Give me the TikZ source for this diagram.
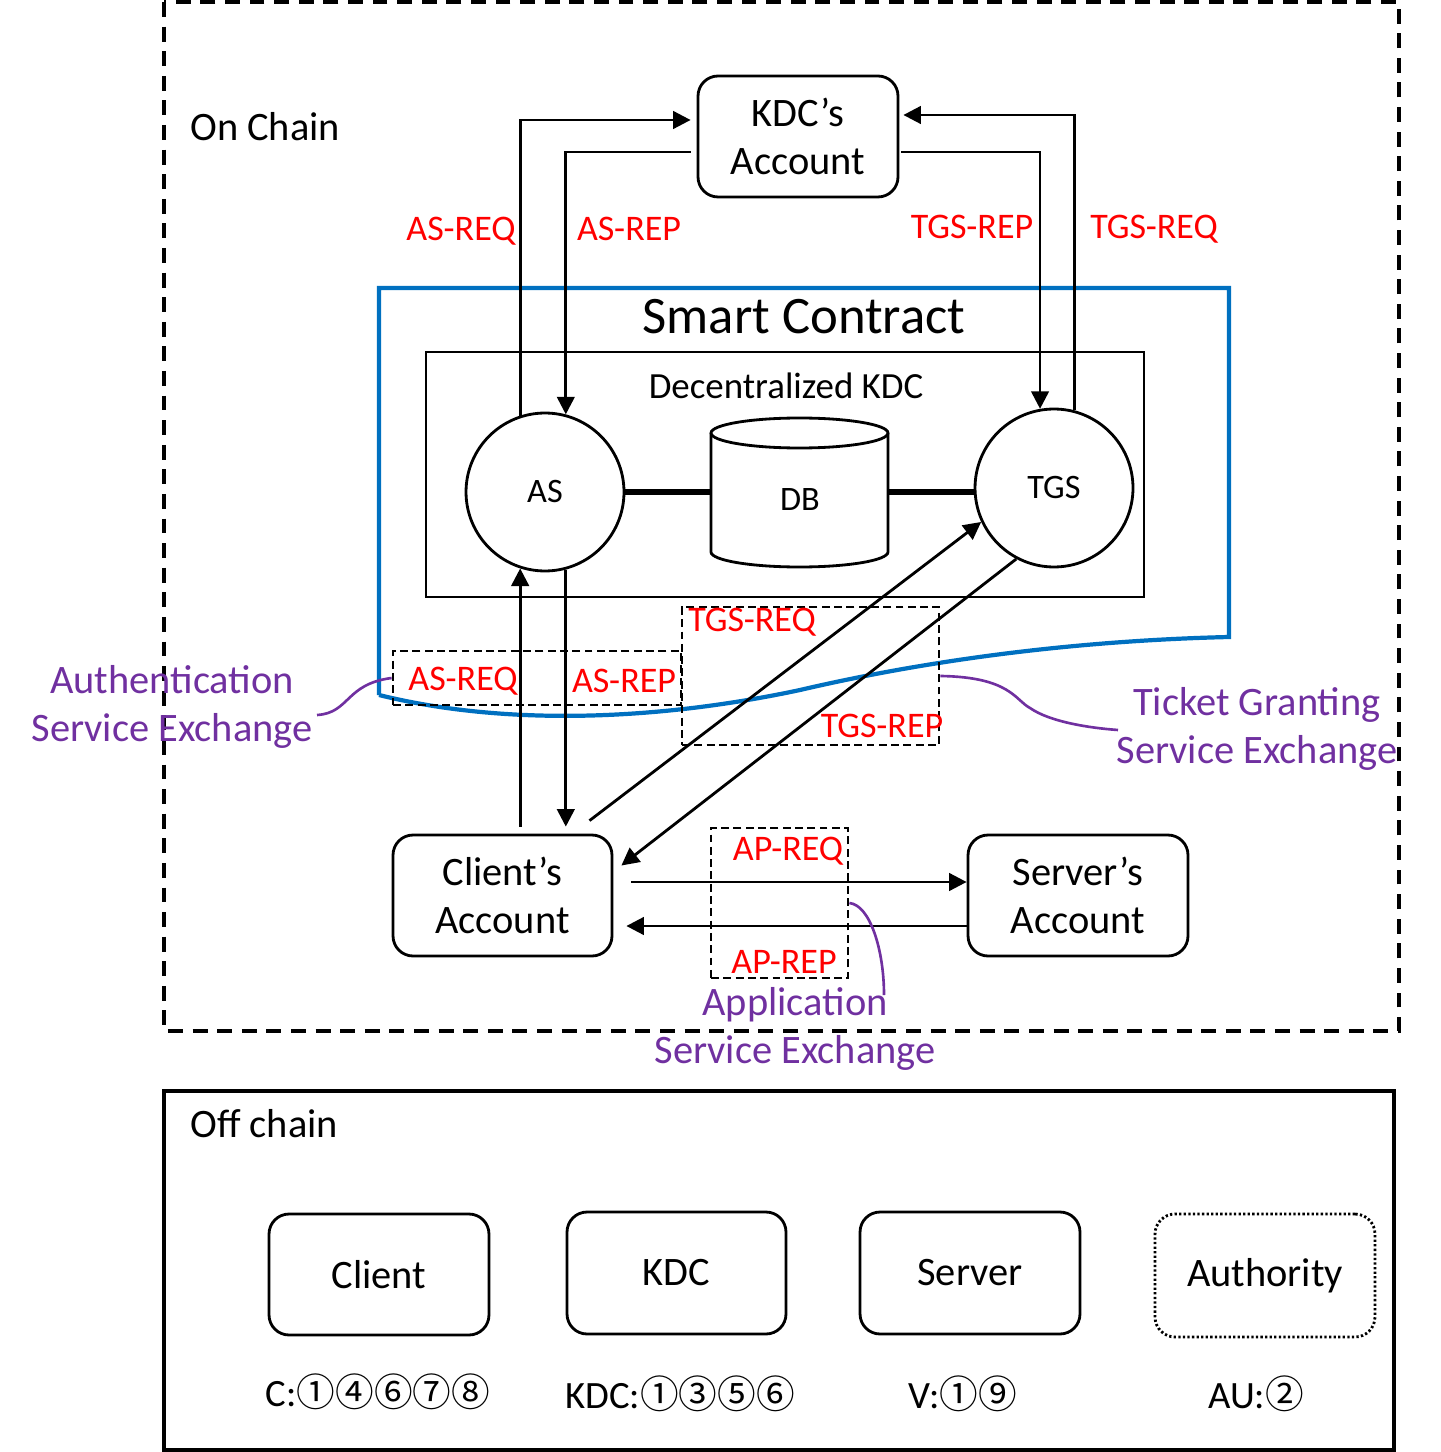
\documentclass[tikz,border=0pt]{standalone}
\usepackage{fontspec}
\setmainfont{Carlito}
\newfontfamily\circfont{Noto Sans CJK SC}
\usetikzlibrary{arrows.meta,calc}
\definecolor{redl}{RGB}{255,0,0}
\definecolor{purp}{RGB}{112,48,160}
\definecolor{blu}{RGB}{0,112,192}
\newcommand{\cn}[1]{{\circfont #1}}
\begin{document}
\begin{tikzpicture}[x=0.02cm,y=-0.02cm,
  box/.style={draw, rounded corners=0.4cm, line width=1.6pt, minimum width=4.4cm, minimum height=2.42cm, inner sep=0pt, align=center, font=\fontsize{23}{27.2}\selectfont},
  circ/.style={draw, circle, line width=1.6pt, minimum size=3.16cm, inner sep=0pt, font=\fontsize{19.5}{23}\selectfont},
  arr/.style={line width=1.6pt, -{Triangle[length=10pt,width=10pt]}},
  lbl/.style={text=redl, font=\fontsize{20.5}{24}\selectfont, inner sep=0pt},
  purl/.style={text=purp, align=center, font=\fontsize{23}{27.2}\selectfont, inner sep=0pt},
  dbox/.style={draw, line width=1.6pt, dash pattern=on 4.5pt off 2.5pt, inner sep=0pt},
  pcon/.style={draw=purp, line width=1.5pt},
  txt/.style={font=\fontsize{23}{27.2}\selectfont, inner sep=0pt},
  numl/.style={font=\fontsize{22}{26}\selectfont, inner sep=0pt}
]
\useasboundingbox (0,0) rectangle (1440,1452);

% frames
\draw[line width=1.8pt, dash pattern=on 8.5pt off 5.5pt] (164,2) rectangle (1399,1031);
\draw[line width=1.8pt] (164,1091) rectangle (1394,1450);
\node[txt, anchor=west] (onchain) at (190,127) {On Chain};
\node[txt, anchor=west] (offchain) at (190,1124) {Off chain};

% smart contract shape
\draw[blu, line width=2.4pt] (379,695) -- (379,288) -- (1229,288) -- (1229,637)
  .. controls (1100,640) and (950,655) .. (800,690)
  .. controls (650,722) and (500,725) .. (379,695);
\node[font=\fontsize{30}{34}\selectfont, inner sep=0pt] (sc) at (804,317) {Smart Contract};

% decentralized KDC
\node[draw, line width=1.6pt, minimum width=14.36cm, minimum height=4.9cm, inner sep=0pt] (dkdc) at (785,474.5) {};
\node[font=\fontsize{21}{25}\selectfont, inner sep=0pt] (dkdct) at (786,386) {Decentralized KDC};

\node[circ] (as) at (545,492) {AS};
\node[circ] (tgs) at (1054,488) {TGS};

% DB cylinder
\node[minimum width=3.54cm, minimum height=2.98cm, inner sep=0pt] (db) at (799.5,492.5) {};
\draw[line width=1.6pt] (799.5,433) ellipse[x radius=1.77cm, y radius=0.3cm];
\draw[line width=1.6pt] (711,433) -- (711,552) arc[start angle=180, end angle=360, x radius=1.77cm, y radius=0.3cm] -- (888,433);
\node[font=\fontsize{19.5}{23}\selectfont, inner sep=0pt] (dbt) at (800,500) {DB};
\draw[line width=3.5pt] (as.east |- 0,492) -- (db.west |- 0,492);
\draw[line width=3.5pt] (db.east |- 0,492) -- (tgs.west |- 0,492);

% KDC account
\node[box, minimum width=4cm] (kdc) at (798,136.5) {KDC’s\\Account};
\draw[arr] (as.108) |- ($(kdc.west)+(-6,-16.5)$);
\draw[arr] ($(kdc.west)+(-6,15.5)$) -| (as.75);
\draw[arr] ($(kdc.east)+(2,15.5)$) -| (tgs.100);
\draw[arr] (tgs.75) |- ($(kdc.east)+(4,-21.5)$);
\node[lbl] (l1) at (461,231) {AS-REQ};
\node[lbl] (l2) at (629,229) {AS-REP};
\node[lbl] (l3) at (972,227) {TGS-REP};
\node[lbl] (l4) at (1154,229) {TGS-REQ};

% accounts
\node[box, minimum width=4.38cm] (client) at (502.5,895.5) {Client’s\\Account};
\node[box] (server) at (1078,895.5) {Server’s\\Account};

\draw[arr] ($(as.252 |- client.north)+(0,-7)$) -- (as.252);
\draw[arr] (as.285) -- ($(as.285 |- client.north)+(0,-7)$);
\draw[arr] ($(client.north)+(87,-13)$) -- (tgs.205);
\draw[arr] (tgs.242) -- ($(client.east)+(8,-30)$);
\draw[arr] ($(client.east)+(18,-13.5)$) -- ($(server.west)+(0,-13.5)$);
\draw[arr] ($(server.west)+(0,30.5)$) -- ($(client.east)+(13,30.5)$);

% dashed boxes
\node[dbox, minimum width=5.76cm, minimum height=1.08cm] (asbox) at (537,678) {};
\node[dbox, minimum width=5.14cm, minimum height=2.76cm] (tgsbox) at (810.5,676) {};
\node[dbox, minimum width=2.74cm, minimum height=3.0cm] (apbox) at (779.5,903) {};

\node[lbl] (l5) at (463,681) {AS-REQ};
\node[lbl] (l6) at (624,681) {AS-REP};
\node[lbl] (l7) at (752,622) {TGS-REQ};
\node[lbl] (l8) at (882,726) {TGS-REP};
\node[lbl] (l9) at (788,851) {AP-REQ};
\node[lbl] (l10) at (784,962) {AP-REP};

% purple labels
\node[purl] (authl) at (172,707) {Authentication\\Service Exchange};
\node[purl] (tgsl) at (1257,729) {Ticket Granting\\Service Exchange};
\node[purl] (apl) at (795,1029) {Application\\Service Exchange};
\coordinate (authc) at (317,715);
\coordinate (tgsc) at (1118,730);
\coordinate (apc) at (884,995);
\draw[pcon] (authc) .. controls (350,713) and (345,684) .. (asbox.west);
\draw[pcon] (tgsbox.east) .. controls (1010,677) and (1015,700) .. (1030,708) .. controls (1050,722) and (1090,728) .. (tgsc);
\draw[pcon] (apbox.east) .. controls (870,905) and (884,950) .. (apc);

% off chain
\node[box] (cl) at (379,1274.5) {Client};
\node[box, minimum width=4.38cm, minimum height=2.44cm] (kd) at (676.5,1273) {KDC};
\node[box, minimum height=2.44cm] (sv) at (970,1273) {Server};
\node[box, minimum height=2.46cm, dash pattern=on 1.3pt off 1.3pt] (au) at (1265,1275.5) {Authority};
\node[numl] (n1) at (378,1392) {C:\cn{①④⑥⑦⑧}};
\node[numl] (n2) at (680,1394) {KDC:\cn{①③⑤⑥}};
\node[numl] (n3) at (963,1394) {V:\cn{①⑨}};
\node[numl] (n4) at (1256,1394) {AU:\cn{②}};
\end{tikzpicture}
\end{document}
